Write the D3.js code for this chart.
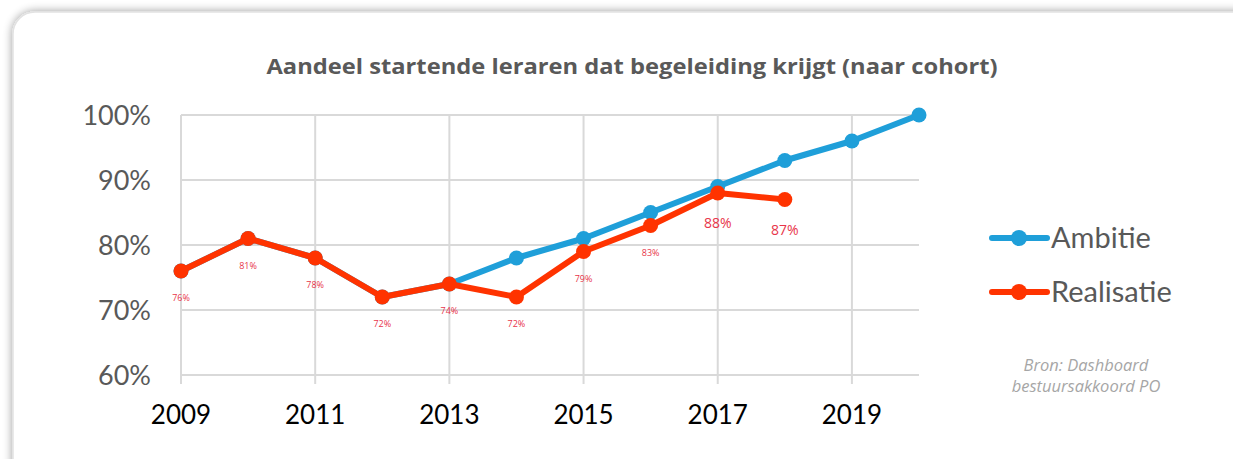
<!DOCTYPE html>
<html>
<head>
<meta charset="utf-8">
<script src="https://cdn.jsdelivr.net/npm/d3@7"></script>
<style>
  body { margin: 0; background: #ffffff; }
  svg { display: block; }
</style>
</head>
<body>
<div class="content"></div>
<script>
var width = 1233, height = 459;

// data
var years = [2009, 2010, 2011, 2012, 2013, 2014, 2015, 2016, 2017, 2018, 2019, 2020];
var ambitie = [76, 81, 78, 72, 74, 78, 81, 85, 89, 93, 96, 100];
var realisatie = [76, 81, 78, 72, 74, 72, 79, 83, 88, 87];
var xTicks = [2009, 2011, 2013, 2015, 2017, 2019];
var yTicks = [60, 70, 80, 90, 100];
var bigLabelYears = [2017, 2018];

var blue = '#1f9fd9', red = '#ff3300';

var svg = d3.select('.content').append('svg')
  .attr('width', width)
  .attr('height', height);

var defs = svg.append('defs');
var shadow = defs.append('filter')
  .attr('id', 'shadow')
  .attr('x', '-5%').attr('y', '-10%')
  .attr('width', '110%').attr('height', '120%');
shadow.append('feGaussianBlur')
  .attr('in', 'SourceAlpha')
  .attr('stdDeviation', 5);
shadow.append('feComponentTransfer')
  .append('feFuncA').attr('type', 'linear').attr('slope', 0.4);
var merge = shadow.append('feMerge');
merge.append('feMergeNode');
merge.append('feMergeNode').attr('in', 'SourceGraphic');

// card
svg.append('rect')
  .attr('x', 13).attr('y', 12)
  .attr('width', 1260).attr('height', 490)
  .attr('rx', 22).attr('ry', 22)
  .attr('fill', '#fff')
  .attr('stroke', '#e2e2e2')
  .attr('stroke-width', 1.5)
  .attr('filter', 'url(#shadow)');

var x = d3.scaleLinear().domain([2009, 2020]).range([181, 919]);
var y = d3.scaleLinear().domain([60, 100]).range([375, 115]);

// grid
svg.append('g').selectAll('line')
  .data(yTicks)
  .enter().append('line')
  .attr('x1', x(2009)).attr('x2', x(2020))
  .attr('y1', function (d) { return y(d); })
  .attr('y2', function (d) { return y(d); })
  .attr('stroke', '#d9d9d9').attr('stroke-width', 2);

svg.append('g').selectAll('line')
  .data(xTicks)
  .enter().append('line')
  .attr('x1', function (d) { return x(d); })
  .attr('x2', function (d) { return x(d); })
  .attr('y1', y(100)).attr('y2', y(60) + 9)
  .attr('stroke', '#d9d9d9').attr('stroke-width', 2);

// axes labels
svg.append('g').selectAll('text')
  .data(yTicks)
  .enter().append('text')
  .attr('x', 151)
  .attr('y', function (d) { return y(d) + 10; })
  .attr('text-anchor', 'end')
  .style('font-family', 'Lato, "Open Sans", sans-serif')
  .style('font-size', '27px')
  .attr('fill', '#595959')
  .text(function (d) { return d + '%'; });

svg.append('g').selectAll('text')
  .data(xTicks)
  .enter().append('text')
  .attr('x', function (d) { return x(d); })
  .attr('y', 424)
  .attr('text-anchor', 'middle')
  .style('font-family', '"Liberation Sans Narrow", Lato, sans-serif')
  .style('font-size', '26px')
  .attr('fill', '#000')
  .text(function (d) { return d; });

// title
svg.append('text')
  .attr('x', 632).attr('y', 74)
  .attr('text-anchor', 'middle')
  .style('font-family', '"Open Sans", sans-serif')
  .style('font-weight', 'bold')
  .style('font-size', '21px')
  .attr('fill', '#595959')
  .attr('textLength', 731)
  .attr('lengthAdjust', 'spacingAndGlyphs')
  .text('Aandeel startende leraren dat begeleiding krijgt (naar cohort)');

var line = d3.line()
  .x(function (d) { return x(d.year); })
  .y(function (d) { return y(d.value); });

function series(values) {
  return values.map(function (v, i) { return { year: years[i], value: v }; });
}

var series2 = [
  { name: 'Ambitie', color: blue, points: series(ambitie) },
  { name: 'Realisatie', color: red, points: series(realisatie) }
];

var g = svg.selectAll('.serie')
  .data(series2)
  .enter().append('g')
  .attr('class', 'serie');

g.append('path')
  .attr('d', function (d) { return line(d.points); })
  .attr('fill', 'none')
  .attr('stroke', function (d) { return d.color; })
  .attr('stroke-width', 6)
  .attr('stroke-linejoin', 'round');

g.selectAll('circle')
  .data(function (d) { return d.points.map(function (p) { return { p: p, color: d.color }; }); })
  .enter().append('circle')
  .attr('cx', function (d) { return x(d.p.year); })
  .attr('cy', function (d) { return y(d.p.value); })
  .attr('r', 7.5)
  .attr('fill', function (d) { return d.color; });

// data labels (realisatie)
svg.append('g').selectAll('text')
  .data(series2[1].points)
  .enter().append('text')
  .attr('x', function (d) { return x(d.year); })
  .attr('y', function (d) {
    return y(d.value) + (bigLabelYears.indexOf(d.year) >= 0 ? 35 : 30);
  })
  .attr('text-anchor', 'middle')
  .style('font-family', '"Open Sans", sans-serif')
  .style('font-size', function (d) { return bigLabelYears.indexOf(d.year) >= 0 ? '14px' : '9px'; })
  .attr('fill', '#e8354a')
  .text(function (d) { return d.value + '%'; });

// legend
var legend = svg.selectAll('.legend')
  .data(series2)
  .enter().append('g')
  .attr('class', 'legend')
  .attr('transform', function (d, i) { return 'translate(992,' + (238 + i * 54) + ')'; });

legend.append('line')
  .attr('x1', 0).attr('x2', 55)
  .attr('stroke', function (d) { return d.color; })
  .attr('stroke-width', 6)
  .attr('stroke-linecap', 'round');
legend.append('circle')
  .attr('cx', 27).attr('r', 8)
  .attr('fill', function (d) { return d.color; });
legend.append('text')
  .attr('x', 59).attr('y', 10)
  .style('font-family', 'Lato, "Open Sans", sans-serif')
  .style('font-size', '29px')
  .attr('fill', '#595959')
  .text(function (d) { return d.name; });

// source
var bron = svg.append('text')
  .attr('text-anchor', 'middle')
  .style('font-family', '"Open Sans", sans-serif')
  .style('font-style', 'italic')
  .style('font-size', '16.5px')
  .attr('fill', '#a6a6a6');
bron.append('tspan').attr('x', 1086).attr('y', 371).text('Bron: Dashboard');
bron.append('tspan').attr('x', 1086).attr('y', 392).text('bestuursakkoord PO');
</script>
</body>
</html>
